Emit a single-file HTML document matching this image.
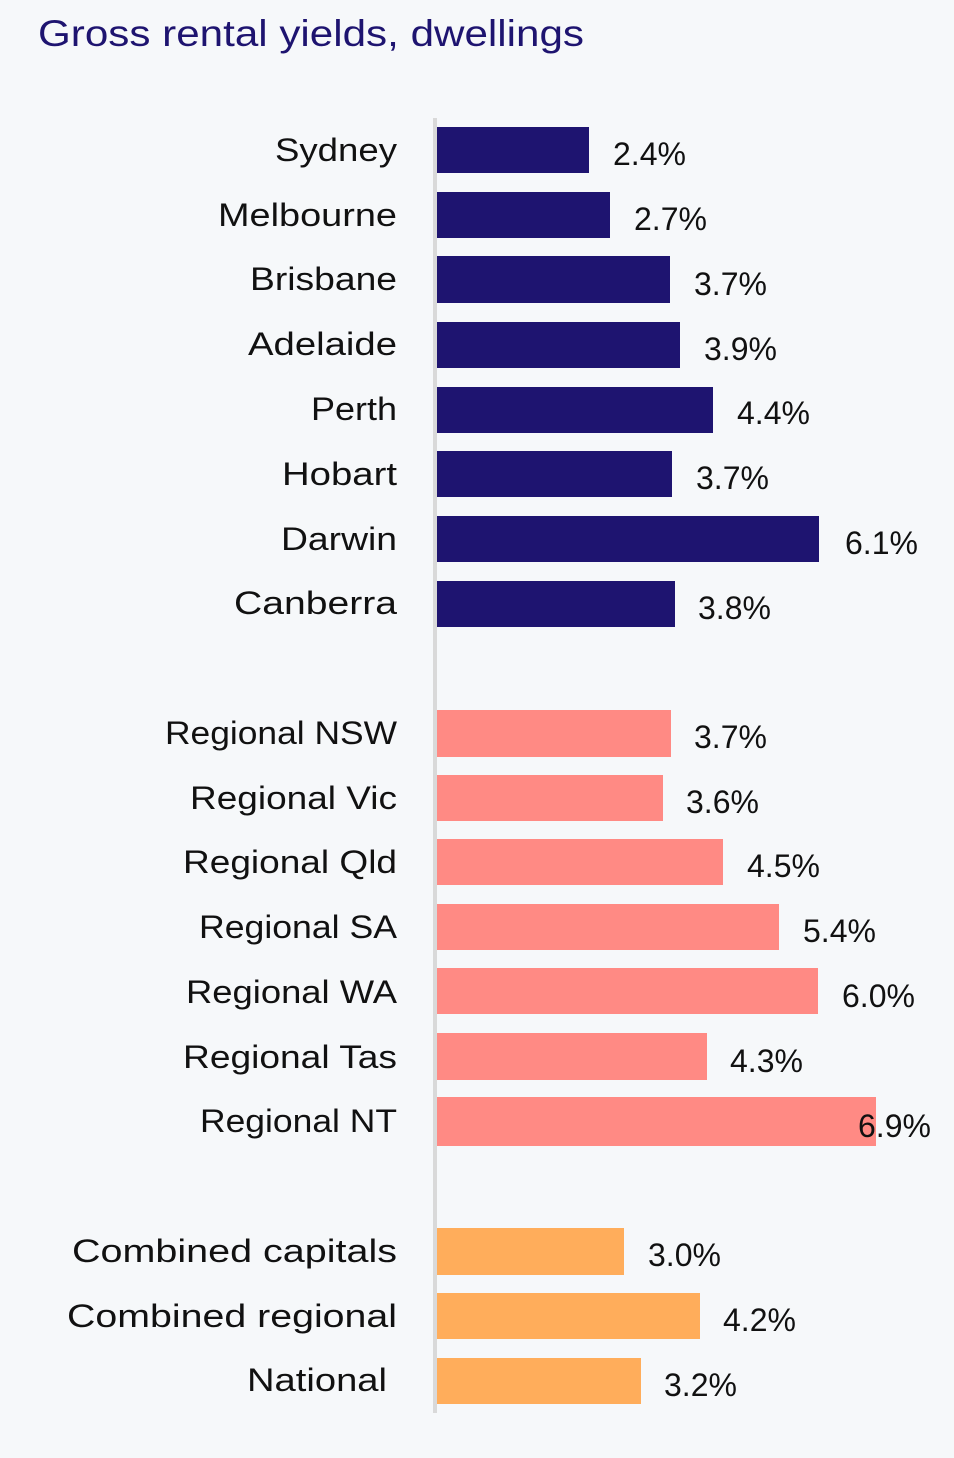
<!DOCTYPE html>
<html><head><style>html,body{margin:0;padding:0;background:#f6f8fa}svg{display:block}</style></head>
<body>
<svg width="954" height="1458" xmlns="http://www.w3.org/2000/svg" font-family="Liberation Sans, sans-serif">
<rect width="954" height="1458" fill="#f6f8fa"/>
<text x="38" y="46" font-size="37" fill="#1e1470" textLength="546" lengthAdjust="spacingAndGlyphs">Gross rental yields, dwellings</text>
<rect x="433" y="118" width="4" height="1295" fill="#d9d9d9"/>
<g font-size="32" fill="#111">
<g fill="#1e1470">
<rect x="437" y="127" width="152" height="46"/>
<rect x="437" y="192" width="173" height="46"/>
<rect x="437" y="256" width="233" height="47"/>
<rect x="437" y="322" width="243" height="46"/>
<rect x="437" y="387" width="276" height="46"/>
<rect x="437" y="451" width="235" height="46"/>
<rect x="437" y="516" width="382" height="46"/>
<rect x="437" y="581" width="238" height="46"/>
</g>
<g fill="#ff8a84">
<rect x="437" y="710" width="234" height="47"/>
<rect x="437" y="775" width="226" height="46"/>
<rect x="437" y="839" width="286" height="46"/>
<rect x="437" y="904" width="342" height="46"/>
<rect x="437" y="968" width="381" height="46"/>
<rect x="437" y="1033" width="270" height="47"/>
<rect x="437" y="1097" width="439" height="49"/>
</g>
<g fill="#ffad5b">
<rect x="437" y="1228" width="187" height="47"/>
<rect x="437" y="1293" width="263" height="46"/>
<rect x="437" y="1358" width="204" height="46"/>
</g>
<g text-anchor="end">
<text x="397" y="161" textLength="122" lengthAdjust="spacingAndGlyphs">Sydney</text>
<text x="397" y="226" textLength="179" lengthAdjust="spacingAndGlyphs">Melbourne</text>
<text x="397" y="290" textLength="147" lengthAdjust="spacingAndGlyphs">Brisbane</text>
<text x="397" y="355" textLength="149" lengthAdjust="spacingAndGlyphs">Adelaide</text>
<text x="397" y="420" textLength="86" lengthAdjust="spacingAndGlyphs">Perth</text>
<text x="397" y="485" textLength="115" lengthAdjust="spacingAndGlyphs">Hobart</text>
<text x="397" y="550" textLength="116" lengthAdjust="spacingAndGlyphs">Darwin</text>
<text x="397" y="614" textLength="163" lengthAdjust="spacingAndGlyphs">Canberra</text>
<text x="397" y="744" textLength="232" lengthAdjust="spacingAndGlyphs">Regional NSW</text>
<text x="397" y="809" textLength="207" lengthAdjust="spacingAndGlyphs">Regional Vic</text>
<text x="397" y="873" textLength="214" lengthAdjust="spacingAndGlyphs">Regional Qld</text>
<text x="397" y="938" textLength="198" lengthAdjust="spacingAndGlyphs">Regional SA</text>
<text x="397" y="1003" textLength="211" lengthAdjust="spacingAndGlyphs">Regional WA</text>
<text x="397" y="1068" textLength="214" lengthAdjust="spacingAndGlyphs">Regional Tas</text>
<text x="397" y="1132" textLength="197" lengthAdjust="spacingAndGlyphs">Regional NT</text>
<text x="397" y="1262" textLength="325" lengthAdjust="spacingAndGlyphs">Combined capitals</text>
<text x="397" y="1327" textLength="330" lengthAdjust="spacingAndGlyphs">Combined regional</text>
<text x="387" y="1391" textLength="140" lengthAdjust="spacingAndGlyphs">National</text>
</g>
<g>
<text x="613" y="165">2.4%</text>
<text x="634" y="230">2.7%</text>
<text x="694" y="295">3.7%</text>
<text x="704" y="360">3.9%</text>
<text x="737" y="424">4.4%</text>
<text x="696" y="489">3.7%</text>
<text x="845" y="554">6.1%</text>
<text x="698" y="619">3.8%</text>
<text x="694" y="748">3.7%</text>
<text x="686" y="813">3.6%</text>
<text x="747" y="877">4.5%</text>
<text x="803" y="942">5.4%</text>
<text x="842" y="1007">6.0%</text>
<text x="730" y="1072">4.3%</text>
<text x="858" y="1137">6.9%</text>
<text x="648" y="1266">3.0%</text>
<text x="723" y="1331">4.2%</text>
<text x="664" y="1396">3.2%</text>
</g>
</g>
</svg>
</body></html>
